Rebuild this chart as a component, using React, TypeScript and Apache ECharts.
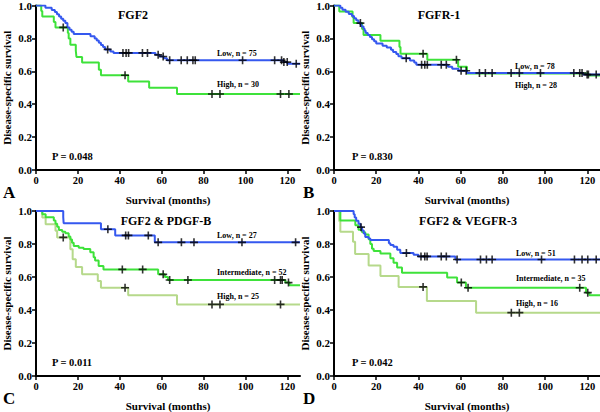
import { useEffect, useRef } from 'react';
import * as echarts from 'echarts';

type Pt = [number, number];

const xTicks = [0, 20, 40, 60, 80, 100, 120];
const X_MAX = 126;

const panelTitles = ['FGF2', 'FGFR-1', 'FGF2 & PDGF-B', 'FGF2 & VEGFR-3'];
const pValues = ['P = 0.048', 'P = 0.830', 'P = 0.011', 'P = 0.042'];
const panelLetters = ['A', 'B', 'C', 'D'];

// Panel A: FGF2
const aLow: Pt[] = [[0,1],[4.5,0.987],[7.5,0.973],[9,0.96],[10,0.947],[11,0.933],[12,0.92],[13,0.907],[14,0.893],[15,0.867],[16,0.853],[17,0.84],[18,0.827],[26,0.813],[28,0.8],[29,0.787],[30,0.773],[31,0.76],[32,0.747],[33,0.733],[35.5,0.72],[37,0.712],[57,0.7],[59,0.69],[61,0.68],[62.5,0.667],[118,0.656],[120,0.646]];
const aLowCens = [34.2,41.5,43,44.2,50.8,53.2,58.3,60.7,63.8,69.3,72.2,74.9,76,98.6,113.9,117.2,118.3,119.9,124.2];
const aHigh: Pt[] = [[0,1],[2.5,0.967],[3,0.933],[8.5,0.9],[9.3,0.867],[15.2,0.833],[15.6,0.8],[16.4,0.762],[19,0.725],[19.3,0.687],[22,0.653],[30,0.61],[31,0.576],[44,0.538],[54,0.5],[67.3,0.462]];
const aHighCens = [13,42.5,84,87.8,116.7,120.7];

// Panel B: FGFR-1
const bLow: Pt[] = [[0,1],[3,0.987],[4,0.974],[5.5,0.962],[7,0.949],[8.5,0.936],[9.5,0.923],[10.5,0.91],[11.5,0.897],[12.5,0.885],[13,0.872],[14,0.859],[14.5,0.846],[15,0.833],[16,0.82],[17,0.808],[18,0.795],[19,0.782],[20,0.769],[23,0.756],[25,0.744],[27,0.731],[28,0.718],[29.5,0.705],[30.5,0.692],[32,0.679],[36,0.666],[38,0.653],[39,0.64],[54,0.628],[56,0.615],[59,0.603],[63,0.59],[118,0.58]];
const bLowCens = [34.2,41.5,43,44.2,50.8,53.2,60.2,62.6,68.9,71.7,74.9,83.9,87.8,97.8,113.6,116.4,117.5,119.9,120.5,124.2];
const bHigh: Pt[] = [[0,1],[2.5,0.964],[8.8,0.929],[9.3,0.893],[13.3,0.857],[14,0.821],[22,0.786],[31,0.748],[31.5,0.707],[44.2,0.67],[58.8,0.628],[63,0.586],[120.5,0.574]];
const bHighCens = [12.5,42.2,58];

// Panel C: FGF2 & PDGF-B
const cLow: Pt[] = [[0,1],[13,0.963],[13.2,0.926],[31,0.889],[37.8,0.852],[56.7,0.81]];
const cLowCens = [34.3,42.8,44.1,53.6,58.3,69.4,75.4,98.3,123.9];
const cMid: Pt[] = [[0,1],[3,0.981],[4.6,0.962],[8.5,0.942],[9.3,0.923],[10.1,0.904],[10.9,0.885],[12.5,0.875],[14,0.865],[15.6,0.846],[16.4,0.827],[17.2,0.808],[18,0.788],[20.4,0.778],[22.7,0.769],[25.9,0.75],[27.5,0.719],[28.2,0.7],[29.9,0.667],[32.2,0.646],[58.3,0.616],[61.5,0.6],[63,0.582],[119,0.566],[121,0.55]];
const cMidCens = [41.2,50.9,60.7,63.8,72.5,113.9,116.7,117.5,120.5];
const cHigh: Pt[] = [[0,1],[3,0.96],[4.6,0.92],[9.3,0.88],[10.1,0.84],[16.4,0.768],[17.5,0.707],[19,0.66],[22,0.616],[29.5,0.576],[31,0.535],[44,0.489],[67.3,0.434]];
const cHighCens = [13,42.5,84,87.8,116.7];

// Panel D: FGF2 & VEGFR-3
const dLow: Pt[] = [[0,1],[9.3,0.98],[9.8,0.961],[10.5,0.941],[11.6,0.922],[12.5,0.902],[13.3,0.882],[14.1,0.863],[14.8,0.843],[16.4,0.833],[17.2,0.824],[26,0.804],[26.7,0.794],[28.2,0.784],[29.9,0.765],[31.4,0.745],[37.7,0.735],[40,0.725],[57.5,0.706]];
const dLowCens = [12.8,34.3,41.2,43,44.1,50.8,53.2,58.3,69.4,72.2,74.9,98.3,113.9,117.5,120.2,124.2];
const dMid: Pt[] = [[0,1],[3,0.943],[10.1,0.914],[11.6,0.886],[13.3,0.871],[14.8,0.857],[16.4,0.829],[17.2,0.8],[18,0.771],[18.8,0.757],[22,0.743],[26.7,0.714],[28.2,0.686],[29.9,0.657],[32.2,0.626],[53.6,0.597],[58.3,0.567],[62.5,0.535],[119.4,0.505],[121,0.49]];
const dMidCens = [60.3,63.5,116.4,120.2];
const dHigh: Pt[] = [[0,1],[2.5,0.938],[3,0.875],[9,0.813],[10,0.74],[16.4,0.67],[22,0.606],[30.6,0.54],[44,0.455],[67.3,0.384]];
const dHighCens = [42.2,84,87.8];

const BLUE = '#3558ef';
const GREEN = '#3ee23a';
const PALE = '#b6d98b';
const FONT = '"Liberation Serif", "Times New Roman", serif';
const PLUS = 'path://M3.2,0H4.8V3.2H8V4.8H4.8V8H3.2V4.8H0V3.2H3.2Z';

type Curve = { data: Pt[]; cens: number[]; color: string; label: string; lx: number; ly: number };
type Panel = { gx: number; gy: number; curves: Curve[]; tx: number; ty: number; px: number; py: number; lx: number; ly: number };

const panels: Panel[] = [
  { gx: 34, gy: 5, tx: 133, ty: 15, px: 52, py: 156, lx: 3, ly: 192, curves: [
    { data: aHigh, cens: aHighCens, color: GREEN, label: 'High, n = 30', lx: 217, ly: 84 },
    { data: aLow, cens: aLowCens, color: BLUE, label: 'Low, n = 75', lx: 217, ly: 53 },
  ] },
  { gx: 334, gy: 5, tx: 439, ty: 15, px: 352, py: 156, lx: 303, ly: 192, curves: [
    { data: bHigh, cens: bHighCens, color: GREEN, label: 'High, n = 28', lx: 515, ly: 85 },
    { data: bLow, cens: bLowCens, color: BLUE, label: 'Low, n = 78', lx: 515, ly: 66 },
  ] },
  { gx: 34, gy: 211, tx: 166, ty: 221, px: 52, py: 362, lx: 3, ly: 398, curves: [
    { data: cHigh, cens: cHighCens, color: PALE, label: 'High, n = 25', lx: 217, ly: 296 },
    { data: cMid, cens: cMidCens, color: GREEN, label: 'Intermediate, n = 52', lx: 217, ly: 272 },
    { data: cLow, cens: cLowCens, color: BLUE, label: 'Low, n = 27', lx: 217, ly: 235 },
  ] },
  { gx: 334, gy: 211, tx: 468, ty: 221, px: 352, py: 362, lx: 303, ly: 398, curves: [
    { data: dHigh, cens: dHighCens, color: PALE, label: 'High, n = 16', lx: 516, ly: 303 },
    { data: dMid, cens: dMidCens, color: GREEN, label: 'Intermediate, n = 35', lx: 516, ly: 278 },
    { data: dLow, cens: dLowCens, color: BLUE, label: 'Low, n = 51', lx: 516, ly: 253 },
  ] },
];

function survivalAt(curve: Pt[], t: number): number {
  let s = 1;
  for (const p of curve) {
    if (p[0] <= t) s = p[1];
    else break;
  }
  return s;
}

export default function App() {
  const ref = useRef<HTMLDivElement>(null);
  useEffect(() => {
    if (!ref.current) return;
    const chart = echarts.init(ref.current, undefined, { renderer: 'svg' });
    const txt = { color: '#000', fontFamily: FONT, fontWeight: 'bold' as const };
    const grid = panels.map((p) => ({ left: p.gx, top: p.gy, width: 266, height: 165 }));
    const xAxis = panels.map((_, i) => ({
      type: 'value', gridIndex: i, min: 0, max: X_MAX, interval: 20,
      axisLine: { lineStyle: { color: '#000', width: 2 } },
      axisTick: { length: 4, lineStyle: { color: '#000', width: 1.5 }, customValues: xTicks },
      axisLabel: { ...txt, fontSize: 10.5, margin: 5, customValues: xTicks },
      splitLine: { show: false },
      name: 'Survival (months)', nameLocation: 'middle', nameGap: 24,
      nameTextStyle: { ...txt, fontSize: 11 },
    }));
    const yAxis = panels.map((_, i) => ({
      type: 'value', gridIndex: i, min: 0, max: 1, interval: 0.2,
      axisLine: { show: true, lineStyle: { color: '#000', width: 2 } },
      axisTick: { show: true, length: 4, lineStyle: { color: '#000', width: 1.5 } },
      axisLabel: { ...txt, fontSize: 11, margin: 4, formatter: (v: number) => v.toFixed(1) },
      splitLine: { show: false },
      name: 'Disease-specific survival', nameLocation: 'middle', nameGap: 24,
      nameTextStyle: { ...txt, fontSize: 11 },
    }));
    const series: any[] = [];
    const graphic: any[] = [];
    panels.forEach((p, i) => {
      const cens: Pt[] = [];
      p.curves.forEach((c) => {
        const last = c.data[c.data.length - 1][1];
        series.push({
          type: 'line', xAxisIndex: i, yAxisIndex: i, step: 'end', symbol: 'none',
          data: [...c.data, [X_MAX, last]],
          lineStyle: { color: c.color, width: 2 }, z: 2,
        });
        c.cens.forEach((t) => cens.push([t, survivalAt(c.data, t)]));
        graphic.push({ type: 'text', x: c.lx, y: c.ly, style: { text: c.label, font: `bold 8px ${FONT}`, fill: '#000', verticalAlign: 'middle' } });
      });
      series.push({
        type: 'scatter', xAxisIndex: i, yAxisIndex: i, symbol: PLUS, symbolSize: 8,
        data: cens, itemStyle: { color: '#000' }, z: 5,
      });
      graphic.push({ type: 'text', x: p.tx, y: p.ty, style: { text: panelTitles[i], font: `bold 12px ${FONT}`, fill: '#000', align: 'center', verticalAlign: 'middle' } });
      graphic.push({ type: 'text', x: p.px, y: p.py, style: { text: pValues[i], font: `bold 10.5px ${FONT}`, fill: '#000', verticalAlign: 'middle' } });
      graphic.push({ type: 'text', x: p.lx, y: p.ly, style: { text: panelLetters[i], font: `bold 17px ${FONT}`, fill: '#000', verticalAlign: 'middle' } });
    });
    chart.setOption({
      animation: false,
      backgroundColor: '#fff',
      grid, xAxis, yAxis, series, graphic,
    });
    return () => chart.dispose();
  }, []);
  return <div ref={ref} style={{ position: 'fixed', left: 0, top: 0, width: 600, height: 412, background: '#fff' }} />;
}
